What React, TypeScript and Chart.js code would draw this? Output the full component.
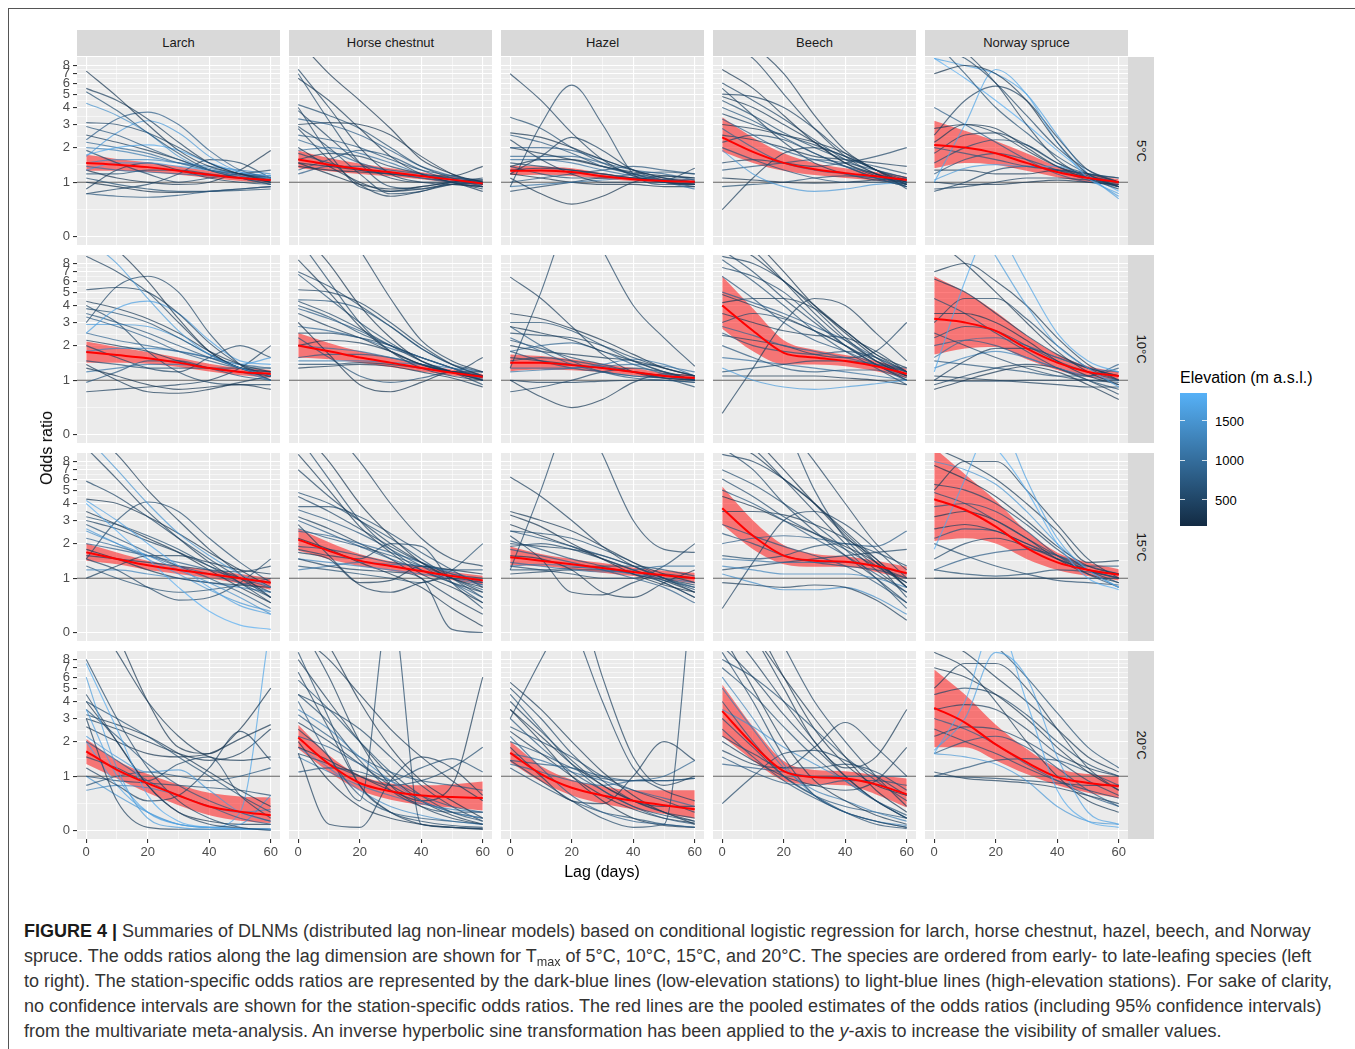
import React, { useEffect, useRef } from 'react';
import { Chart, registerables } from 'chart.js';

Chart.register(...registerables);

const FONT = "'Liberation Sans', Arial, Helvetica, sans-serif";

// ---------- axes / labels ----------
const LAGS = [0, 10, 20, 30, 40, 50, 60];
const X_TICKS = [0, 10, 20, 30, 40, 50, 60]; // labelled: multiples of 20
const X_MIN = -3;
const X_MAX = 63;
const Y_TICK_ODDS = [0, 1, 2, 3, 4, 5, 6, 7, 8];
const REF_ODDS = 1;
const SPECIES = ['Larch', 'Horse chestnut', 'Hazel', 'Beech', 'Norway spruce'];
const TEMPS = ['5°C', '10°C', '15°C', '20°C'];
const ELEV_LIMITS = [165, 1850];
const ELEV_BREAKS = [500, 1000, 1500];

// ---------- station curves: [elevation (m), OR at lag 0,10,20,30,40,50,60] ----------
const larch5 = [
  [300, 7.3, 4.8, 3.0, 1.9, 1.4, 1.2, 1.0],
  [400, 5.5, 4.5, 3.3, 2.2, 1.5, 1.2, 1.05],
  [600, 5.2, 3.8, 2.6, 1.8, 1.3, 1.1, 0.95],
  [1450, 4.3, 3.5, 2.6, 1.7, 1.3, 1.15, 1.1],
  [500, 3.1, 3.0, 2.6, 2.0, 1.5, 1.2, 1.1],
  [700, 2.9, 2.5, 2.0, 1.6, 1.3, 1.1, 0.95],
  [800, 2.3, 3.3, 3.7, 3.0, 1.9, 1.3, 1.1],
  [1550, 1.7, 2.6, 3.2, 2.6, 1.7, 1.25, 1.15],
  [1750, 1.75, 2.0, 2.1, 1.9, 1.5, 1.25, 1.15],
  [350, 2.5, 2.2, 1.9, 1.6, 1.3, 1.15, 1.0],
  [900, 2.2, 2.0, 1.8, 1.5, 1.3, 1.2, 1.1],
  [1200, 2.0, 1.9, 1.7, 1.5, 1.35, 1.2, 1.15],
  [500, 1.9, 1.5, 1.2, 1.0, 1.1, 1.2, 1.3],
  [1350, 1.5, 1.6, 1.6, 1.5, 1.4, 1.3, 1.2],
  [1000, 1.4, 1.3, 1.25, 1.2, 1.15, 1.1, 1.05],
  [1600, 1.3, 1.5, 1.5, 1.4, 1.3, 1.2, 1.1],
  [600, 1.2, 1.2, 1.3, 1.3, 1.2, 1.1, 1.0],
  [400, 0.85, 1.3, 1.5, 1.3, 1.1, 1.0, 0.95],
  [300, 1.3, 1.1, 1.0, 0.95, 1.0, 1.3, 1.9],
  [500, 0.75, 0.85, 0.95, 1.2, 1.6, 1.5, 1.1],
  [700, 0.75, 0.7, 0.68, 0.72, 0.8, 0.85, 0.9],
  [600, 1.1, 0.95, 0.85, 0.8, 0.8, 0.82, 0.85],
  [250, 1.0, 0.9, 0.8, 0.78, 0.8, 0.85, 0.9],
];
const horse5 = [
  [300, 12, 7.0, 4.5, 2.8, 1.6, 1.2, 1.0],
  [400, 7.5, 4.0, 2.0, 1.2, 1.0, 0.95, 0.9],
  [500, 7.0, 3.2, 1.5, 0.9, 0.85, 0.95, 1.0],
  [350, 6.5, 4.5, 2.8, 1.7, 1.2, 1.0, 0.85],
  [600, 4.2, 3.5, 2.8, 2.0, 1.4, 1.1, 0.9],
  [450, 3.8, 2.4, 1.5, 1.1, 1.0, 1.0, 1.0],
  [800, 3.3, 3.0, 2.5, 1.9, 1.4, 1.15, 1.0],
  [300, 3.0, 3.1, 3.0, 2.5, 1.7, 1.2, 0.95],
  [500, 2.9, 2.0, 1.2, 0.75, 0.8, 1.0, 1.05],
  [400, 2.8, 1.6, 0.95, 0.7, 0.8, 0.95, 1.0],
  [700, 2.5, 2.3, 2.0, 1.6, 1.3, 1.15, 1.0],
  [900, 2.3, 1.9, 1.5, 1.25, 1.1, 1.0, 0.95],
  [350, 2.0, 1.4, 1.0, 0.8, 0.85, 0.95, 0.9],
  [1000, 1.9, 2.0, 1.8, 1.5, 1.2, 1.05, 0.95],
  [600, 1.8, 1.5, 1.3, 1.2, 1.15, 1.1, 1.05],
  [500, 1.6, 1.8, 1.7, 1.4, 1.2, 1.0, 0.9],
  [400, 1.5, 1.4, 1.3, 1.2, 1.1, 1.0, 0.8],
  [300, 1.4, 1.3, 1.25, 1.2, 1.15, 1.15, 1.4],
  [700, 1.3, 1.6, 1.9, 1.7, 1.3, 1.05, 0.95],
  [800, 1.2, 1.4, 1.4, 1.3, 1.2, 1.1, 1.0],
  [250, 1.5, 1.2, 0.95, 0.85, 0.9, 1.0, 1.05],
  [450, 4.0, 1.8, 0.9, 0.8, 0.9, 1.0, 1.1],
];
const hazel5 = [
  [400, 7.0, 4.5, 2.6, 1.6, 1.15, 1.0, 0.95],
  [500, 0.9, 3.0, 5.8, 3.0, 1.2, 0.95, 0.95],
  [600, 3.4, 2.8, 2.0, 1.5, 1.2, 1.05, 1.0],
  [300, 2.6, 2.4, 2.0, 1.6, 1.3, 1.1, 1.0],
  [700, 2.5, 2.2, 1.8, 1.4, 1.2, 1.1, 1.05],
  [400, 2.3, 1.6, 1.2, 1.0, 1.0, 1.0, 0.95],
  [450, 1.2, 1.7, 2.4, 1.9, 1.3, 1.05, 1.0],
  [800, 2.0, 2.0, 1.9, 1.6, 1.3, 1.1, 1.0],
  [350, 2.0, 1.8, 1.6, 1.4, 1.25, 1.15, 1.1],
  [900, 1.7, 1.7, 1.7, 1.5, 1.3, 1.2, 1.05],
  [1000, 1.6, 1.6, 1.5, 1.3, 1.15, 1.05, 1.0],
  [500, 1.5, 1.4, 1.3, 1.2, 1.1, 1.0, 0.95],
  [600, 1.4, 1.2, 1.1, 1.1, 1.2, 1.25, 1.2],
  [400, 1.3, 1.35, 1.3, 1.2, 1.1, 1.05, 1.35],
  [300, 1.1, 0.75, 0.55, 0.7, 1.0, 1.15, 1.1],
  [700, 1.0, 1.1, 1.2, 1.3, 1.4, 1.3, 1.2],
  [1100, 0.9, 0.95, 1.0, 1.05, 1.1, 1.0, 0.85],
  [500, 0.8, 0.9, 1.0, 1.1, 1.1, 1.0, 0.9],
  [250, 1.2, 1.1, 1.0, 0.95, 0.95, 0.9, 0.9],
  [350, 1.4, 1.6, 1.6, 1.4, 1.2, 1.0, 0.95],
];
const beech5 = [
  [300, 7.5, 5.5, 3.5, 2.2, 1.5, 1.2, 1.0],
  [400, 12, 9, 5, 2.8, 1.7, 1.2, 0.95],
  [350, 14, 11, 7, 3.5, 1.9, 1.3, 1.0],
  [500, 6.0, 4.5, 3.3, 2.3, 1.6, 1.2, 0.9],
  [450, 5.0, 4.8, 4.0, 2.8, 1.8, 1.3, 1.05],
  [600, 4.5, 3.5, 2.6, 2.0, 1.6, 1.4, 1.2],
  [700, 4.0, 3.2, 2.4, 1.8, 1.4, 1.1, 0.9],
  [500, 3.6, 3.0, 2.5, 2.1, 1.7, 1.3, 0.85],
  [800, 3.3, 2.5, 1.9, 1.6, 1.4, 1.2, 1.0],
  [300, 3.0, 2.8, 2.5, 2.2, 1.8, 1.3, 0.95],
  [900, 2.8, 2.0, 1.5, 1.3, 1.2, 1.1, 1.0],
  [400, 2.5, 2.3, 2.0, 1.7, 1.6, 1.5, 1.4],
  [550, 2.2, 2.5, 2.3, 1.8, 1.4, 1.1, 0.9],
  [650, 2.0, 1.6, 1.3, 1.1, 1.0, 1.0, 1.05],
  [1550, 1.9, 1.2, 0.9, 0.8, 0.85, 0.95, 1.0],
  [500, 1.5, 1.6, 1.5, 1.4, 1.5, 1.7, 2.0],
  [700, 1.3, 1.4, 1.5, 1.6, 1.5, 1.3, 1.1],
  [400, 0.45, 1.1, 1.8, 2.0, 1.7, 1.3, 1.1],
  [300, 1.1, 1.05, 1.0, 0.98, 1.0, 1.05, 1.1],
  [600, 0.9, 0.95, 1.0, 1.1, 1.15, 1.1, 0.95],
  [350, 4.8, 4.0, 3.0, 2.2, 1.5, 1.15, 0.95],
  [450, 5.5, 3.5, 2.2, 1.5, 1.2, 1.05, 0.95],
];
const spruce5 = [
  [400, 14, 10, 6, 3, 1.6, 1.1, 0.85],
  [500, 11, 9, 6, 3.5, 2.0, 1.3, 1.0],
  [300, 7.0, 8.0, 7.0, 4.5, 2.2, 1.2, 0.9],
  [1700, 1.0, 3.0, 7.5, 5.0, 2.2, 1.1, 0.75],
  [450, 2.5, 4.5, 5.7, 4.5, 2.4, 1.3, 1.0],
  [600, 12, 7, 4, 2.6, 1.7, 1.2, 0.9],
  [350, 2.2, 3.0, 2.8, 2.0, 1.4, 1.1, 1.0],
  [500, 1.8, 2.5, 2.6, 2.1, 1.5, 1.2, 1.1],
  [700, 2.0, 1.8, 1.6, 1.4, 1.3, 1.2, 1.1],
  [1600, 1.05, 1.35, 1.45, 1.4, 1.4, 1.1, 0.7],
  [1650, 9, 8, 7, 5, 2.5, 1.2, 0.65],
  [400, 1.3, 1.3, 1.2, 1.2, 1.3, 1.2, 1.0],
  [300, 1.0, 0.95, 0.95, 1.0, 1.05, 1.0, 0.95],
  [500, 0.8, 1.0, 1.3, 1.4, 1.3, 1.1, 0.9],
  [700, 1.2, 1.6, 1.8, 1.6, 1.3, 1.05, 0.9],
  [600, 1.5, 2.0, 2.3, 2.1, 1.5, 1.1, 0.9],
  [450, 0.85, 0.9, 1.0, 1.1, 1.1, 1.05, 1.0],
  [800, 4.0, 3.0, 2.2, 1.6, 1.2, 1.0, 0.95],
  [1800, 9, 6.5, 4.5, 3.0, 1.9, 1.2, 0.8],
  [350, 2.8, 3.0, 2.6, 1.9, 1.4, 1.15, 1.0],
];

const larch10 = [
  [1600, 12, 8, 4.5, 2.6, 1.7, 1.3, 1.1],
  [300, 14, 10, 6, 3.2, 1.8, 1.3, 1.1],
  [400, 9, 7, 5, 3, 1.8, 1.3, 1.2],
  [450, 5.2, 5.4, 5.0, 3.5, 2.1, 1.4, 1.1],
  [500, 3.0, 5.5, 6.5, 5.0, 2.5, 1.4, 1.0],
  [1650, 2.5, 3.8, 4.3, 3.5, 2.2, 1.5, 1.4],
  [350, 4.3, 3.8, 3.2, 2.5, 1.8, 1.4, 1.2],
  [600, 3.8, 3.5, 3.0, 2.3, 1.7, 1.3, 1.1],
  [700, 3.5, 3.0, 2.5, 2.0, 1.6, 1.3, 1.1],
  [800, 3.3, 2.8, 2.3, 1.8, 1.5, 1.3, 1.2],
  [1600, 2.9, 2.9, 2.8, 2.3, 1.7, 1.4, 1.6],
  [900, 2.5, 2.2, 2.0, 1.8, 1.6, 1.4, 1.3],
  [400, 2.2, 2.0, 1.8, 1.5, 1.3, 1.2, 1.1],
  [500, 2.0, 1.6, 1.3, 1.2, 1.6, 2.0, 1.6],
  [1300, 1.8, 1.9, 1.9, 1.8, 1.6, 1.3, 1.0],
  [600, 1.5, 1.4, 1.3, 1.3, 1.3, 1.3, 1.3],
  [300, 1.3, 1.1, 0.9, 0.8, 0.85, 0.9, 0.8],
  [1100, 1.2, 1.3, 1.4, 1.4, 1.3, 1.2, 1.0],
  [700, 0.95, 1.2, 1.5, 1.5, 1.3, 1.1, 1.0],
  [400, 0.75, 0.8, 0.85, 0.9, 1.0, 1.3, 2.0],
  [350, 1.4, 1.0, 0.75, 0.72, 0.8, 0.95, 1.1],
  [500, 4.0, 3.0, 1.8, 1.2, 0.95, 0.9, 0.9],
];
const horse10 = [
  [400, 30, 20, 10, 4.5, 2.2, 1.5, 1.2],
  [300, 14, 8, 4, 2.3, 1.5, 1.2, 1.0],
  [500, 12, 6, 3, 1.8, 1.3, 1.1, 1.0],
  [350, 8.5, 5, 2.8, 1.8, 1.4, 1.2, 1.1],
  [600, 6.7, 4.5, 3.0, 2.1, 1.5, 1.2, 1.0],
  [450, 5.2, 5.0, 4.2, 3.0, 2.0, 1.4, 1.1],
  [700, 4.4, 4.3, 3.8, 2.8, 1.9, 1.4, 1.2],
  [500, 4.3, 3.5, 2.7, 2.0, 1.5, 1.2, 0.9],
  [800, 3.8, 3.2, 2.6, 2.0, 1.6, 1.3, 1.1],
  [400, 3.5, 2.8, 2.3, 1.8, 1.4, 1.2, 1.1],
  [300, 3.0, 1.7, 0.9, 0.75, 0.95, 1.2, 1.2],
  [900, 2.8, 2.6, 2.3, 1.9, 1.6, 1.3, 1.0],
  [550, 2.5, 2.5, 2.3, 2.0, 1.6, 1.3, 1.05],
  [650, 2.3, 1.6, 1.1, 0.95, 1.05, 1.2, 1.1],
  [1000, 2.0, 1.9, 1.8, 1.6, 1.4, 1.2, 1.05],
  [750, 1.6, 1.7, 1.7, 1.6, 1.4, 1.2, 1.0],
  [1200, 1.5, 1.5, 1.5, 1.45, 1.4, 1.3, 1.2],
  [500, 1.4, 1.4, 1.45, 1.4, 1.3, 1.2, 1.1],
  [350, 1.3, 1.35, 1.4, 1.35, 1.2, 1.05, 0.85],
  [600, 4.0, 3.3, 2.5, 2.0, 1.6, 1.3, 1.0],
  [400, 2.0, 2.2, 2.1, 1.8, 1.4, 1.2, 1.6],
  [500, 7, 5.5, 4, 2.8, 1.9, 1.4, 1.1],
];
const hazel10 = [
  [400, 6.4, 4.5, 2.8, 1.7, 1.2, 1.05, 1.0],
  [500, 1.3, 5, 20, 40, 60, 80, 100],
  [450, 50, 40, 25, 10, 4, 2.3, 1.35],
  [300, 3.5, 3.2, 2.7, 2.2, 1.7, 1.3, 1.1],
  [600, 3.0, 3.0, 2.6, 2.0, 1.5, 1.2, 1.0],
  [350, 2.8, 2.5, 2.2, 1.8, 1.5, 1.2, 1.0],
  [700, 2.8, 2.0, 1.5, 1.2, 1.05, 1.0, 0.95],
  [500, 2.5, 2.4, 2.3, 2.0, 1.6, 1.3, 1.1],
  [800, 2.3, 1.8, 1.4, 1.2, 1.1, 1.05, 1.0],
  [400, 2.0, 1.8, 1.7, 1.6, 1.5, 1.3, 1.1],
  [900, 1.8, 2.0, 2.1, 1.8, 1.4, 1.15, 1.0],
  [450, 1.6, 1.5, 1.4, 1.3, 1.2, 1.1, 1.0],
  [350, 1.0, 0.65, 0.45, 0.6, 0.95, 1.15, 1.1],
  [1000, 1.3, 1.3, 1.3, 1.35, 1.4, 1.35, 1.2],
  [1100, 1.2, 1.25, 1.3, 1.4, 1.55, 1.4, 1.1],
  [500, 0.75, 0.85, 1.0, 1.2, 1.3, 1.2, 1.0],
  [400, 1.0, 0.95, 0.95, 0.98, 1.0, 1.0, 0.95],
  [600, 1.5, 1.6, 1.5, 1.35, 1.2, 1.1, 1.05],
  [550, 2.2, 1.9, 1.6, 1.4, 1.2, 1.05, 0.85],
  [650, 1.8, 1.5, 1.3, 1.2, 1.1, 1.05, 1.0],
];
const beech10 = [
  [300, 20, 12, 7, 4, 2.5, 1.6, 1.1],
  [400, 15, 10, 6, 3.5, 2.2, 1.5, 1.1],
  [350, 12, 9, 6, 4, 2.6, 1.7, 1.2],
  [500, 10, 7, 4.5, 3, 2, 1.4, 1.0],
  [450, 9, 8, 6, 3.8, 2.3, 1.5, 1.1],
  [600, 8.5, 6, 4, 2.6, 1.8, 1.3, 0.9],
  [550, 7.5, 6.5, 5, 3.2, 2.0, 1.4, 1.05],
  [700, 6.5, 4.5, 3.0, 2.2, 1.8, 1.4, 1.1],
  [800, 5, 4.2, 3.5, 2.8, 2.2, 1.6, 1.2],
  [350, 4.2, 4.5, 4.5, 3.8, 2.6, 1.7, 1.3],
  [400, 3.5, 3.0, 2.6, 2.4, 2.3, 1.8, 1.2],
  [900, 2.8, 2.4, 2.0, 1.8, 1.6, 1.4, 1.3],
  [650, 2.5, 2.0, 1.8, 1.7, 1.8, 1.6, 1.2],
  [500, 2.4, 2.2, 2.0, 1.7, 1.6, 1.8, 3.0],
  [1600, 1.3, 1.0, 0.85, 0.8, 0.85, 0.92, 1.0],
  [600, 1.2, 1.3, 1.4, 1.5, 1.5, 1.4, 1.2],
  [400, 0.35, 1.3, 3, 4.5, 4.0, 2.5, 1.5],
  [300, 1.1, 1.1, 1.1, 1.1, 1.05, 1.0, 0.9],
  [700, 2.0, 1.6, 1.3, 1.2, 1.25, 1.25, 1.0],
  [1000, 1.6, 1.5, 1.4, 1.3, 1.2, 1.1, 1.0],
  [450, 4.8, 4.0, 3.3, 2.6, 2.0, 1.5, 1.2],
  [550, 3.0, 3.5, 3.2, 2.6, 2.0, 1.4, 1.0],
];
const spruce10 = [
  [1750, 1.2, 6, 20, 40, 40, 30, 20],
  [1600, 30, 20, 9, 4, 2, 1.3, 0.85],
  [1700, 40, 30, 15, 6, 2.5, 1.5, 1.2],
  [400, 6.2, 5.0, 3.5, 2.4, 1.7, 1.3, 1.1],
  [300, 12, 8, 5, 3, 1.8, 1.2, 0.9],
  [500, 3.0, 4.5, 4.5, 3.2, 2.0, 1.3, 1.0],
  [350, 3.5, 3.5, 3.0, 2.2, 1.5, 1.1, 0.9],
  [600, 2.3, 2.8, 2.6, 2.0, 1.5, 1.2, 1.0],
  [1000, 1.6, 2.2, 2.3, 2.0, 1.6, 1.3, 1.2],
  [450, 1.0, 1.5, 1.9, 1.9, 1.6, 1.3, 1.1],
  [300, 0.8, 1.0, 1.2, 1.35, 1.2, 0.9, 0.6],
  [500, 1.0, 0.98, 0.98, 1.0, 1.0, 1.0, 1.0],
  [400, 1.1, 1.05, 1.0, 0.95, 0.9, 0.85, 0.85],
  [700, 1.5, 1.4, 1.3, 1.2, 1.1, 1.1, 1.3],
  [550, 2.5, 2.0, 1.6, 1.3, 1.1, 1.0, 0.95],
  [600, 4.5, 3.5, 2.5, 1.8, 1.3, 1.0, 0.8],
  [350, 7, 8, 6, 4, 2.3, 1.4, 1.0],
  [1300, 1.3, 1.6, 1.8, 1.6, 1.3, 1.1, 1.0],
  [450, 0.9, 1.1, 1.3, 1.4, 1.3, 1.0, 0.7],
  [800, 2.0, 2.2, 2.0, 1.6, 1.3, 1.1, 1.4],
];

const larch15 = [
  [1500, 12, 7, 4, 2.4, 1.6, 1.1, 0.8],
  [350, 14, 9, 5, 3, 1.8, 1.1, 0.6],
  [400, 10, 6, 3.5, 2.2, 1.4, 0.9, 0.5],
  [500, 5.8, 4.5, 3.2, 2.2, 1.5, 1.0, 0.6],
  [300, 4.3, 4.0, 3.2, 2.4, 1.7, 1.2, 0.8],
  [1650, 4.2, 3.0, 2.0, 1.3, 0.8, 0.45, 0.3],
  [1800, 4.0, 2.5, 1.5, 0.8, 0.35, 0.12, 0.05],
  [600, 3.2, 2.8, 2.3, 1.8, 1.3, 0.9, 0.6],
  [450, 3.0, 2.6, 2.1, 1.7, 1.3, 1.0, 0.7],
  [700, 2.8, 2.2, 1.7, 1.3, 1.0, 0.7, 0.4],
  [1400, 2.5, 2.0, 1.6, 1.2, 0.9, 0.6, 0.3],
  [800, 2.0, 1.8, 1.6, 1.4, 1.2, 1.0, 0.8],
  [550, 1.5, 3.0, 4.1, 3.5, 2.2, 1.4, 0.9],
  [350, 1.8, 1.5, 1.2, 1.0, 0.9, 0.85, 0.8],
  [500, 1.5, 1.2, 0.8, 0.55, 0.6, 0.9, 1.5],
  [1300, 1.2, 1.2, 1.1, 1.0, 0.9, 0.8, 0.7],
  [400, 1.0, 1.3, 1.6, 1.6, 1.4, 1.2, 1.1],
  [600, 1.3, 1.0, 0.8, 0.7, 0.75, 0.85, 1.0],
  [300, 3.5, 2.8, 2.2, 1.7, 1.2, 0.8, 0.5],
  [900, 2.2, 1.9, 1.6, 1.3, 1.1, 0.9, 0.7],
  [450, 1.6, 1.5, 1.4, 1.3, 1.2, 1.15, 1.3],
  [1550, 2.6, 2.0, 1.5, 1.1, 0.75, 0.5, 0.35],
];
const horse15 = [
  [400, 20, 14, 8, 4, 2.2, 1.5, 1.3],
  [300, 14, 8, 4, 2.3, 1.4, 1.0, 0.8],
  [500, 12, 6, 3, 1.8, 1.2, 0.9, 0.7],
  [350, 9, 5, 2.7, 1.7, 1.1, 0.8, 0.5],
  [450, 7, 4.5, 3, 2, 1.4, 1.0, 0.7],
  [600, 4.8, 4, 3, 2.2, 1.5, 1.0, 0.6],
  [550, 3.8, 3.8, 3.2, 2.4, 1.7, 1.2, 0.8],
  [700, 3.6, 3.0, 2.4, 1.8, 1.3, 0.9, 0.5],
  [800, 3.0, 2.4, 1.9, 1.5, 1.2, 0.9, 0.6],
  [400, 2.8, 1.6, 0.85, 0.7, 0.9, 1.0, 0.9],
  [900, 2.5, 2.3, 2.0, 1.7, 1.4, 1.1, 0.85],
  [500, 1.8, 1.6, 1.5, 2.0, 1.9, 0.9, 0.4],
  [350, 1.7, 1.5, 0.9, 0.95, 1.3, 1.2, 1.1],
  [450, 1.5, 1.3, 1.2, 1.15, 1.0, 0.05, 0.0],
  [1100, 1.2, 1.3, 1.4, 1.35, 1.3, 1.15, 0.9],
  [1300, 1.5, 1.4, 1.3, 1.2, 1.1, 1.0, 0.85],
  [600, 1.3, 1.2, 1.1, 1.0, 0.9, 1.2, 2.0],
  [300, 2.2, 1.8, 1.4, 1.1, 0.8, 0.4, 0.1],
  [400, 3.2, 2.6, 2.0, 1.5, 1.0, 0.6, 0.3],
  [650, 1.9, 1.8, 1.6, 1.4, 1.3, 1.2, 1.2],
  [500, 4.5, 3.5, 2.6, 1.9, 1.4, 1.1, 1.0],
  [700, 2.6, 2.2, 1.9, 1.6, 1.3, 1.0, 0.75],
];
const hazel15 = [
  [400, 6.2, 4.5, 3.0, 1.9, 1.3, 1.0, 0.85],
  [500, 1.2, 5, 20, 40, 60, 80, 100],
  [450, 50, 40, 25, 9, 3, 1.8, 1.7],
  [350, 3.5, 3.0, 2.5, 1.9, 1.4, 1.1, 0.9],
  [300, 3.3, 2.7, 2.0, 1.5, 1.1, 0.85, 0.7],
  [600, 2.5, 2.4, 2.2, 1.8, 1.4, 1.0, 0.75],
  [700, 2.5, 2.2, 1.9, 1.6, 1.3, 1.0, 0.8],
  [400, 2.3, 1.5, 0.7, 0.65, 0.9, 1.1, 1.0],
  [500, 2.0, 1.9, 1.8, 1.6, 1.3, 1.0, 0.7],
  [800, 1.8, 1.6, 1.4, 1.2, 1.0, 0.8, 0.5],
  [350, 1.6, 1.5, 1.2, 0.7, 0.6, 0.9, 1.2],
  [1000, 1.4, 1.3, 1.2, 1.15, 1.2, 1.3, 1.3],
  [1200, 1.3, 1.35, 1.3, 1.2, 1.1, 1.0, 0.9],
  [600, 1.2, 1.2, 1.25, 1.3, 1.3, 1.2, 1.05],
  [450, 1.1, 1.15, 1.2, 1.2, 1.1, 0.9, 0.6],
  [500, 1.3, 1.2, 1.1, 1.0, 1.0, 1.3, 2.0],
  [650, 2.1, 1.8, 1.5, 1.3, 1.1, 0.95, 0.8],
  [550, 1.9, 2.0, 1.8, 1.5, 1.2, 0.9, 0.6],
  [300, 2.8, 2.3, 1.9, 1.5, 1.2, 0.95, 0.7],
];
const beech15 = [
  [300, 20, 12, 7, 4, 2.3, 1.4, 0.9],
  [400, 15, 10, 6, 3.5, 2.0, 1.2, 0.7],
  [350, 12, 9, 6, 4, 2.5, 1.5, 0.8],
  [500, 10, 7, 4, 2.5, 1.6, 1.0, 0.5],
  [450, 9, 8, 6, 4, 2.4, 1.4, 0.6],
  [600, 7, 5.5, 4, 2.8, 1.8, 1.0, 0.4],
  [550, 6, 4.5, 3.2, 2.4, 1.8, 1.3, 1.0],
  [700, 5, 4, 3, 2.2, 1.6, 1.1, 0.7],
  [350, 3.5, 3.5, 3.3, 2.8, 2.2, 1.5, 0.8],
  [500, 40, 30, 15, 5, 2.2, 1.3, 0.9],
  [400, 30, 25, 15, 8, 4, 2, 1.2],
  [800, 2.0, 2.2, 2.3, 2.2, 2.0, 1.9, 2.5],
  [600, 1.6, 1.5, 1.6, 1.9, 2.0, 1.7, 1.3],
  [1000, 1.5, 1.45, 1.4, 1.4, 1.4, 1.3, 1.1],
  [1300, 1.3, 1.2, 1.1, 1.1, 1.1, 1.0, 0.8],
  [400, 0.9, 0.85, 0.8, 0.85, 0.8, 0.55, 0.2],
  [450, 0.4, 1.4, 3, 3.5, 2.8, 1.8, 1.0],
  [1400, 1.1, 0.9, 0.75, 0.75, 0.8, 0.6, 0.3],
  [650, 2.4, 2.0, 1.6, 1.4, 1.3, 1.2, 1.0],
  [500, 1.2, 1.3, 1.4, 1.5, 1.6, 1.7, 1.8],
  [300, 4.5, 3.8, 3.0, 2.4, 1.9, 1.4, 0.8],
  [700, 2.8, 2.3, 1.9, 1.6, 1.3, 0.9, 0.5],
];
const spruce15 = [
  [1750, 1.8, 6, 20, 40, 60, 60, 60],
  [1650, 50, 40, 20, 6, 2.2, 1.2, 0.8],
  [1800, 12, 15, 10, 5, 2, 1.0, 0.75],
  [400, 5, 8, 8, 5, 2.8, 1.5, 1.0],
  [300, 7.5, 6, 4.5, 3, 1.9, 1.3, 1.1],
  [500, 5.5, 5, 4, 2.8, 1.8, 1.2, 0.9],
  [600, 4.8, 4.0, 3.0, 2.2, 1.6, 1.2, 1.0],
  [350, 3.2, 3.5, 3.0, 2.2, 1.5, 1.1, 0.9],
  [450, 2.6, 2.8, 2.5, 2.0, 1.5, 1.2, 1.1],
  [700, 2.2, 2.6, 2.5, 2.0, 1.6, 1.3, 1.3],
  [500, 1.5, 2.0, 2.2, 1.9, 1.5, 1.2, 1.0],
  [800, 1.2, 1.5, 1.7, 1.8, 1.6, 1.3, 1.1],
  [400, 1.0, 1.0, 1.0, 1.0, 1.0, 1.0, 1.0],
  [600, 1.2, 1.1, 1.05, 1.1, 1.2, 1.15, 1.0],
  [350, 10, 8, 6, 4, 2.5, 1.4, 1.45],
  [1500, 8, 7, 5.5, 3.5, 2, 1.2, 0.8],
  [550, 2.0, 1.6, 1.3, 1.1, 0.95, 0.9, 0.85],
  [650, 3.8, 4, 3.5, 2.5, 1.6, 1.1, 0.8],
];

const larch20 = [
  [350, 20, 9, 4, 2.2, 1.5, 1.4, 1.5],
  [300, 30, 12, 4, 1.8, 1.6, 2.5, 5.0],
  [500, 8, 3, 1.2, 0.5, 0.2, 0.05, 0.0],
  [1600, 6, 1.2, 0.2, 0.05, 0.02, 0.02, 0.02],
  [1750, 7.5, 2.5, 0.6, 0.15, 0.05, 0.03, 0.02],
  [450, 4.5, 2.0, 0.8, 0.3, 0.1, 0.04, 0.02],
  [600, 4.0, 3.0, 2.2, 1.5, 1.0, 0.6, 0.3],
  [1650, 3.5, 1.0, 0.3, 0.1, 0.05, 0.03, 0.02],
  [700, 3.5, 2.2, 1.3, 0.8, 0.5, 0.3, 0.15],
  [350, 3.2, 2.7, 2.2, 1.6, 1.1, 0.7, 0.4],
  [400, 3.0, 0.5, 0.05, 0.02, 0.02, 0.02, 0.02],
  [300, 2.6, 2.0, 1.6, 1.5, 1.6, 2.1, 2.7],
  [1550, 2.2, 1.5, 1.1, 1.15, 0.7, 0.3, 0.15],
  [800, 2.0, 1.4, 0.9, 0.6, 0.4, 0.2, 0.1],
  [500, 1.5, 1.2, 0.9, 1.3, 1.5, 0.6, 0.2],
  [450, 1.2, 0.8, 0.5, 0.6, 1.2, 2.4, 1.4],
  [550, 1.0, 0.9, 0.85, 0.8, 0.75, 0.7, 0.6],
  [650, 0.8, 1.0, 1.1, 1.0, 0.9, 1.0, 1.2],
  [1300, 0.7, 0.8, 0.75, 0.6, 0.4, 0.3, 0.35],
  [1500, 1.0, 0.6, 0.3, 0.1, 0.05, 0.1, 0.6],
  [1700, 2.0, 0.8, 0.3, 0.1, 0.05, 0.3, 15],
  [350, 3.0, 2.5, 2.0, 1.6, 1.4, 1.6, 2.5],
  [300, 4, 2, 0.8, 0.3, 0.15, 0.1, 0.1],
];
const horse20 = [
  [300, 20, 10, 4, 1.8, 0.9, 0.5, 0.2],
  [400, 15, 6, 2, 0.8, 0.4, 0.2, 0.1],
  [350, 12, 8, 4.5, 2.5, 1.5, 0.9, 0.5],
  [500, 9, 3, 0.8, 0.3, 0.15, 0.08, 0.05],
  [450, 6.5, 2.5, 0.8, 0.3, 0.1, 0.05, 0.02],
  [600, 5.7, 3.5, 2.0, 1.1, 0.6, 0.3, 0.15],
  [550, 4.5, 2.8, 1.4, 0.7, 0.4, 0.3, 0.3],
  [700, 4.0, 1.5, 0.6, 0.3, 0.2, 0.15, 0.1],
  [1300, 3.5, 2.5, 1.5, 0.9, 0.5, 0.3, 0.2],
  [400, 1.6, 0.1, 0.05, 0.9, 1.5, 1.2, 0.6],
  [500, 2.5, 1.5, 0.5, 20, 0.1, 0.05, 0.03],
  [800, 2.2, 1.8, 1.3, 0.9, 0.6, 0.4, 0.3],
  [350, 1.8, 1.4, 1.0, 0.7, 0.5, 0.8, 6.0],
  [600, 1.6, 1.3, 1.0, 0.8, 0.9, 1.2, 1.8],
  [650, 1.1, 1.2, 1.1, 0.9, 1.2, 1.45, 1.1],
  [1400, 1.8, 1.2, 0.7, 0.4, 0.25, 0.15, 0.1],
  [450, 2.8, 2.0, 1.3, 0.8, 0.5, 0.3, 0.2],
  [750, 3.2, 2.2, 1.5, 1.1, 0.9, 0.8, 0.7],
  [300, 2.0, 0.9, 0.4, 0.2, 0.1, 0.05, 0.02],
  [500, 4.5, 3.5, 2.5, 1.5, 0.8, 0.4, 0.15],
  [350, 8, 4, 2, 1, 0.5, 0.25, 0.1],
  [1200, 1.5, 1.1, 0.8, 0.6, 0.45, 0.35, 0.3],
];
const hazel20 = [
  [450, 3.0, 8, 20, 40, 40, 40, 40],
  [450, 60, 40, 15, 4, 1.2, 0.7, 0.5],
  [400, 80, 60, 30, 6, 1.5, 0.8, 1.0],
  [350, 5.5, 3.5, 2.0, 1.1, 0.6, 0.3, 0.15],
  [500, 5.0, 3.0, 1.6, 0.9, 0.5, 0.3, 0.2],
  [600, 4.5, 2.5, 1.3, 0.7, 0.4, 0.25, 0.15],
  [300, 3.5, 2.2, 1.3, 0.8, 0.5, 0.3, 0.1],
  [700, 3.0, 1.8, 1.1, 0.7, 0.4, 0.2, 0.1],
  [550, 2.6, 2.0, 1.5, 1.0, 0.7, 0.5, 0.3],
  [800, 2.2, 1.2, 0.6, 0.3, 0.15, 0.1, 0.05],
  [650, 2.0, 1.6, 1.2, 0.95, 0.9, 0.9, 0.95],
  [400, 1.8, 1.0, 0.5, 0.45, 1.0, 2.0, 1.4],
  [500, 1.4, 0.9, 0.5, 0.2, 0.05, 0.1, 40],
  [900, 1.3, 1.1, 0.9, 0.8, 0.9, 1.0, 1.4],
  [1000, 1.6, 1.4, 1.1, 0.9, 0.7, 0.55, 0.4],
  [450, 4.0, 2.4, 1.4, 0.8, 0.5, 0.4, 0.4],
  [350, 2.4, 1.6, 1.0, 0.6, 0.35, 0.2, 0.12],
  [600, 1.2, 0.8, 0.5, 0.3, 0.2, 0.1, 0.05],
  [750, 1.4, 1.3, 1.2, 1.0, 0.9, 0.9, 0.95],
  [300, 3.5, 2.0, 1.0, 0.5, 0.2, 0.08, 0.05],
];
const beech20 = [
  [300, 20, 12, 6, 3, 1.5, 0.7, 0.3],
  [400, 15, 8, 4, 2, 1.0, 0.5, 0.2],
  [350, 12, 5, 2, 0.9, 0.5, 0.25, 0.1],
  [450, 10, 6, 3.2, 1.8, 1.0, 0.5, 0.2],
  [500, 9, 4, 1.5, 0.6, 0.3, 0.15, 0.05],
  [600, 8, 6, 4, 2.5, 1.5, 0.9, 0.5],
  [1300, 6, 3, 1.3, 0.6, 0.3, 0.15, 0.08],
  [1200, 5, 2.5, 1.2, 0.7, 0.5, 0.3, 0.15],
  [700, 4, 2, 1.0, 0.6, 0.4, 0.3, 0.2],
  [550, 3, 1.8, 1.0, 0.6, 0.3, 0.1, 0.03],
  [650, 2.5, 1.5, 0.9, 0.55, 0.3, 0.15, 0.05],
  [400, 2.0, 1.4, 1.0, 0.8, 0.7, 0.9, 1.8],
  [450, 1.7, 1.3, 1.2, 1.8, 2.8, 1.8, 1.0],
  [800, 1.3, 1.2, 1.1, 1.0, 1.0, 1.0, 1.0],
  [500, 0.45, 1.0, 1.6, 1.7, 1.4, 1.0, 0.6],
  [350, 25, 12, 5, 2.0, 1.2, 1.5, 3.5],
  [300, 30, 15, 6, 2.5, 1.3, 0.8, 0.6],
  [1450, 3.5, 2.6, 1.8, 1.3, 0.9, 0.5, 0.2],
  [600, 7, 4.5, 2.6, 1.5, 0.9, 0.5, 0.25],
  [700, 1.5, 1.1, 0.85, 0.8, 0.9, 0.9, 0.8],
  [550, 2.2, 1.6, 1.2, 1.2, 1.3, 1.1, 0.7],
  [450, 40, 25, 10, 4, 2, 1.0, 0.4],
];
const spruce20 = [
  [1750, 1.6, 4, 15, 4, 0.7, 0.15, 0.05],
  [1650, 1.7, 3, 9, 6, 1.5, 0.3, 0.1],
  [1550, 1.6, 1.5, 1.3, 0.9, 0.4, 0.15, 0.1],
  [400, 5, 7.5, 7.5, 5, 2.5, 1.2, 0.7],
  [300, 7, 6, 4.5, 3, 1.8, 1.1, 0.7],
  [500, 4.5, 5, 4.5, 3.2, 2.0, 1.3, 1.0],
  [450, 3.5, 3.8, 3.5, 2.5, 1.6, 1.2, 1.0],
  [350, 12, 9, 6, 4, 2.5, 1.5, 1.1],
  [600, 20, 15, 10, 6, 3.3, 1.8, 1.2],
  [550, 2.2, 2.6, 2.5, 2.0, 1.4, 0.9, 0.6],
  [700, 1.6, 2.0, 2.2, 1.8, 1.2, 0.7, 0.4],
  [650, 1.0, 1.2, 1.4, 1.45, 1.4, 1.1, 0.8],
  [400, 1.1, 0.95, 0.9, 0.85, 0.75, 0.6, 0.45],
  [500, 1.0, 0.98, 0.95, 0.9, 0.85, 0.8, 0.8],
  [800, 3.0, 2.5, 1.9, 1.3, 0.9, 0.6, 0.4],
  [350, 9, 7, 4, 2, 1.0, 0.5, 0.3],
  [600, 2.5, 2.0, 1.6, 1.2, 0.9, 0.7, 0.55],
];

// ---------- pooled estimates (red line + 95% CI ribbon), OR at lags 0..60 ----------
const larch5Pooled = { est: [1.5, 1.45, 1.38, 1.28, 1.18, 1.1, 1.05], lo: [1.28, 1.28, 1.25, 1.18, 1.1, 1.03, 0.98], hi: [1.75, 1.62, 1.52, 1.4, 1.28, 1.18, 1.12] };
const horse5Pooled = { est: [1.6, 1.45, 1.33, 1.24, 1.15, 1.06, 0.97], lo: [1.35, 1.27, 1.2, 1.14, 1.07, 0.99, 0.92], hi: [1.9, 1.65, 1.48, 1.35, 1.24, 1.13, 1.03] };
const hazel5Pooled = { est: [1.28, 1.29, 1.25, 1.14, 1.07, 1.03, 1.01], lo: [1.17, 1.18, 1.15, 1.08, 1.02, 0.99, 0.96], hi: [1.42, 1.4, 1.35, 1.22, 1.12, 1.08, 1.06] };
const beech5Pooled = { est: [2.4, 1.85, 1.5, 1.32, 1.22, 1.14, 1.05], lo: [1.85, 1.5, 1.28, 1.17, 1.1, 1.04, 0.97], hi: [3.4, 2.4, 1.8, 1.5, 1.35, 1.25, 1.13] };
const spruce5Pooled = { est: [2.1, 2.0, 1.8, 1.5, 1.25, 1.1, 1.0], lo: [1.35, 1.5, 1.45, 1.28, 1.12, 1.0, 0.93], hi: [3.2, 2.7, 2.25, 1.8, 1.4, 1.2, 1.07] };

const larch10Pooled = { est: [1.78, 1.68, 1.58, 1.45, 1.3, 1.2, 1.15], lo: [1.45, 1.45, 1.42, 1.33, 1.21, 1.12, 1.06], hi: [2.15, 1.95, 1.78, 1.6, 1.42, 1.3, 1.25] };
const horse10Pooled = { est: [2.0, 1.8, 1.6, 1.45, 1.3, 1.18, 1.08], lo: [1.6, 1.55, 1.45, 1.33, 1.21, 1.11, 1.02], hi: [2.5, 2.1, 1.8, 1.6, 1.4, 1.26, 1.15] };
const hazel10Pooled = { est: [1.45, 1.45, 1.38, 1.3, 1.2, 1.1, 1.05], lo: [1.22, 1.26, 1.24, 1.2, 1.12, 1.04, 0.99], hi: [1.7, 1.65, 1.55, 1.42, 1.3, 1.18, 1.12] };
const beech10Pooled = { est: [4.0, 2.6, 1.75, 1.6, 1.5, 1.35, 1.15], lo: [2.7, 1.8, 1.4, 1.4, 1.35, 1.22, 1.05], hi: [6.5, 3.8, 2.2, 1.85, 1.68, 1.5, 1.28] };
const spruce10Pooled = { est: [3.2, 3.0, 2.6, 1.9, 1.45, 1.2, 1.1], lo: [1.7, 1.9, 1.95, 1.55, 1.25, 1.07, 1.0], hi: [6.5, 5, 3.6, 2.4, 1.7, 1.35, 1.2] };

const larch15Pooled = { est: [1.7, 1.5, 1.32, 1.2, 1.1, 1.0, 0.9], lo: [1.45, 1.35, 1.2, 1.1, 1.0, 0.88, 0.75], hi: [2.0, 1.7, 1.45, 1.3, 1.2, 1.1, 1.0] };
const horse15Pooled = { est: [2.15, 1.75, 1.45, 1.3, 1.17, 1.05, 0.95], lo: [1.75, 1.5, 1.3, 1.18, 1.07, 0.96, 0.85], hi: [2.6, 2.05, 1.65, 1.43, 1.28, 1.15, 1.06] };
const hazel15Pooled = { est: [1.55, 1.45, 1.35, 1.25, 1.15, 1.07, 1.0], lo: [1.32, 1.3, 1.22, 1.13, 1.05, 0.97, 0.88], hi: [1.9, 1.65, 1.5, 1.38, 1.26, 1.18, 1.13] };
const beech15Pooled = { est: [3.7, 2.3, 1.6, 1.45, 1.42, 1.3, 1.12], lo: [2.8, 1.8, 1.35, 1.28, 1.28, 1.15, 0.98], hi: [5.3, 3.0, 1.95, 1.65, 1.58, 1.45, 1.28] };
const spruce15Pooled = { est: [4.3, 3.6, 2.7, 1.85, 1.4, 1.2, 1.08], lo: [2.1, 2.2, 2.0, 1.5, 1.2, 1.05, 0.95], hi: [10, 6.5, 4.2, 2.5, 1.7, 1.4, 1.22] };

const larch20Pooled = { est: [1.67, 1.15, 0.84, 0.6, 0.4, 0.31, 0.25], lo: [1.3, 0.95, 0.65, 0.42, 0.25, 0.16, 0.12], hi: [2.1, 1.4, 1.05, 0.82, 0.65, 0.58, 0.56] };
const horse20Pooled = { est: [2.15, 1.3, 0.85, 0.68, 0.6, 0.57, 0.55], lo: [1.75, 1.1, 0.7, 0.52, 0.43, 0.38, 0.33], hi: [2.7, 1.55, 1.02, 0.84, 0.8, 0.82, 0.88] };
const hazel20Pooled = { est: [1.62, 1.05, 0.75, 0.6, 0.5, 0.42, 0.35], lo: [1.35, 0.88, 0.6, 0.45, 0.35, 0.27, 0.2], hi: [2.0, 1.25, 0.92, 0.78, 0.7, 0.7, 0.7] };
const beech20Pooled = { est: [3.4, 1.9, 1.12, 0.98, 0.95, 0.82, 0.62], lo: [2.2, 1.4, 0.9, 0.82, 0.8, 0.62, 0.38], hi: [5.3, 2.6, 1.38, 1.15, 1.12, 1.02, 0.95] };
const spruce20Pooled = { est: [3.6, 2.8, 1.9, 1.35, 0.98, 0.85, 0.78], lo: [1.8, 1.8, 1.4, 1.05, 0.8, 0.65, 0.55], hi: [6.8, 4.5, 2.7, 1.75, 1.2, 1.05, 1.0] };

const STATION_GRID = [
  [larch5, horse5, hazel5, beech5, spruce5],
  [larch10, horse10, hazel10, beech10, spruce10],
  [larch15, horse15, hazel15, beech15, spruce15],
  [larch20, horse20, hazel20, beech20, spruce20],
];
const POOLED_GRID = [
  [larch5Pooled, horse5Pooled, hazel5Pooled, beech5Pooled, spruce5Pooled],
  [larch10Pooled, horse10Pooled, hazel10Pooled, beech10Pooled, spruce10Pooled],
  [larch15Pooled, horse15Pooled, hazel15Pooled, beech15Pooled, spruce15Pooled],
  [larch20Pooled, horse20Pooled, hazel20Pooled, beech20Pooled, spruce20Pooled],
];

// ---------- layout ----------
const PANEL_LEFT = 77;
const PANEL_TOP = 57;
const PANEL_W = 203;
const PANEL_H = 188;
const COL_STEP = 212;
const ROW_STEP = 198;
const Y_AXIS_W = 30;
const X_AXIS_H = 22;
const PAD = 6;

const LOW = [19, 43, 67];
const HIGH = [86, 177, 247];
function elevColor(e: number, alpha: number) {
  const t = Math.max(0, Math.min(1, (e - ELEV_LIMITS[0]) / (ELEV_LIMITS[1] - ELEV_LIMITS[0])));
  const c = LOW.map((l, i) => Math.round(l + (HIGH[i] - l) * t));
  return `rgba(${c[0]},${c[1]},${c[2]},${alpha})`;
}

const panelBg = {
  id: 'panelBg',
  beforeDraw(chart: any) {
    const { ctx, chartArea: a } = chart;
    ctx.save();
    ctx.fillStyle = '#EBEBEB';
    ctx.fillRect(a.left, a.top, a.right - a.left, a.bottom - a.top);
    ctx.restore();
  },
};

const Y_MAJOR = Y_TICK_ODDS.map((v) => Math.asinh(v));
const Y_SPAN = Y_MAJOR[Y_MAJOR.length - 1] - Y_MAJOR[0];
const Y_MIN = Y_MAJOR[0] - 0.05 * Y_SPAN;
const Y_MAX = Y_MAJOR[Y_MAJOR.length - 1] + 0.05 * Y_SPAN;

function Panel({ row, col }: { row: number; col: number }) {
  const ref = useRef<HTMLCanvasElement>(null);
  const showY = col === 0;
  const showX = row === TEMPS.length - 1;
  const w = PANEL_W + (showY ? Y_AXIS_W : 0);
  const h = PANEL_H + 2 * PAD + (showX ? X_AXIS_H : 0);
  const left = PANEL_LEFT + col * COL_STEP - (showY ? Y_AXIS_W : 0);
  const top = PANEL_TOP + row * ROW_STEP - PAD;

  useEffect(() => {
    const stations = STATION_GRID[row][col];
    const pooled = POOLED_GRID[row][col];
    const pts = (vals: number[]) => vals.map((v, i) => ({ x: LAGS[i], y: Math.asinh(v) }));
    const datasets: any[] = [];
    datasets.push({ data: pts(pooled.est), borderColor: '#FF0000', borderWidth: 2, fill: false });
    stations.forEach((s: number[]) => {
      datasets.push({ data: pts(s.slice(1)), borderColor: elevColor(s[0], 0.7), borderWidth: 1.15, fill: false });
    });
    datasets.push({
      data: [{ x: X_MIN, y: Math.asinh(REF_ODDS) }, { x: X_MAX, y: Math.asinh(REF_ODDS) }],
      borderColor: '#5F5F5F', borderWidth: 1.1, fill: false, cubicInterpolationMode: 'default', tension: 0,
    });
    datasets.push({ data: pts(pooled.hi), borderWidth: 0, borderColor: 'rgba(0,0,0,0)', backgroundColor: 'rgba(255,0,0,0.5)', fill: '+1' });
    datasets.push({ data: pts(pooled.lo), borderWidth: 0, borderColor: 'rgba(0,0,0,0)', fill: false });

    const zeroPad = (s: any) => { s.paddingTop = 0; s.paddingBottom = 0; s.paddingLeft = 0; s.paddingRight = 0; };

    const chart = new Chart(ref.current as HTMLCanvasElement, {
      type: 'line',
      data: { datasets },
      plugins: [panelBg],
      options: {
        animation: false,
        responsive: false,
        devicePixelRatio: 1,
        events: [],
        layout: { padding: { top: PAD, bottom: PAD, left: 0, right: 0 } },
        elements: {
          point: { radius: 0, hoverRadius: 0 },
          line: { cubicInterpolationMode: 'monotone', capBezierPoints: false },
        },
        datasets: { line: { clip: 0 } } as any,
        plugins: { legend: { display: false }, tooltip: { enabled: false } },
        scales: {
          x: {
            type: 'linear',
            min: X_MIN,
            max: X_MAX,
            bounds: 'data',
            afterBuildTicks: (s: any) => { s.ticks = X_TICKS.map((v) => ({ value: v, minor: v % 20 !== 0 })); },
            afterFit: (s: any) => { s.height = showX ? X_AXIS_H : 0; zeroPad(s); },
            border: { display: false },
            grid: {
              color: '#FFFFFF',
              lineWidth: (c: any) => (c.tick && c.tick.minor ? 0.55 : 1.1),
              drawTicks: showX,
              tickLength: 4,
              tickColor: (c: any) => (c.tick && c.tick.minor ? 'rgba(0,0,0,0)' : '#333333'),
              tickWidth: 1.1,
            },
            ticks: {
              display: showX,
              autoSkip: false,
              maxRotation: 0,
              padding: 2,
              color: '#4D4D4D',
              font: { family: FONT, size: 13 },
              callback: (v: any, i: number, t: any[]) => (t[i].minor ? '' : String(v)),
            },
          },
          y: {
            type: 'linear',
            min: Y_MIN,
            max: Y_MAX,
            bounds: 'data',
            afterBuildTicks: (s: any) => {
              const t: any[] = [];
              Y_MAJOR.forEach((v, i) => {
                t.push({ value: v, minor: false });
                if (i < Y_MAJOR.length - 1) t.push({ value: (v + Y_MAJOR[i + 1]) / 2, minor: true });
              });
              s.ticks = t;
            },
            afterFit: (s: any) => { s.width = showY ? Y_AXIS_W : 0; zeroPad(s); },
            border: { display: false },
            grid: {
              color: '#FFFFFF',
              lineWidth: (c: any) => (c.tick && c.tick.minor ? 0.55 : 1.1),
              drawTicks: showY,
              tickLength: 4,
              tickColor: (c: any) => (c.tick && c.tick.minor ? 'rgba(0,0,0,0)' : '#333333'),
              tickWidth: 1.1,
            },
            ticks: {
              display: showY,
              autoSkip: false,
              padding: 3,
              color: '#4D4D4D',
              font: { family: FONT, size: 13 },
              callback: (v: any, i: number, t: any[]) => (t[i].minor ? '' : String(Math.round(Math.sinh(v)))),
            },
          },
        },
      } as any,
    });
    return () => chart.destroy();
  }, [row, col]);

  return (
    <canvas
      ref={ref}
      width={w}
      height={h}
      style={{ position: 'absolute', left, top, width: w, height: h }}
    />
  );
}

const CAPTION_LINES = [
  [<b key="b" style={{ color: '#1a1a1a' }}>FIGURE 4 | </b>, 'Summaries of DLNMs (distributed lag non-linear models) based on conditional logistic regression for larch, horse chestnut, hazel, beech, and Norway'],
  ['spruce. The odds ratios along the lag dimension are shown for T', <span key="s" style={{ fontSize: '0.7em', lineHeight: 0, position: 'relative', top: '0.35em' }}>max</span>, ' of 5°C, 10°C, 15°C, and 20°C. The species are ordered from early- to late-leafing species (left'],
  ['to right). The station-specific odds ratios are represented by the dark-blue lines (low-elevation stations) to light-blue lines (high-elevation stations). For sake of clarity,'],
  ['no confidence intervals are shown for the station-specific odds ratios. The red lines are the pooled estimates of the odds ratios (including 95% confidence intervals)'],
  ['from the multivariate meta-analysis. An inverse hyperbolic sine transformation has been applied to the ', <i key="i">y</i>, '-axis to increase the visibility of smaller values.'],
];

export default function App() {
  const barTop = 393;
  const barH = 133;
  return (
    <div style={{ position: 'absolute', left: 0, top: 0, width: 1355, height: 1049, background: '#FFFFFF', overflow: 'hidden', fontFamily: FONT }}>
      <div style={{ position: 'absolute', left: 8, top: 8, width: 1400, height: 1100, borderTop: '1px solid #555', borderLeft: '1px solid #555' }} />

      {SPECIES.map((s, c) => (
        <div key={s} style={{ position: 'absolute', left: PANEL_LEFT + c * COL_STEP, top: 30, width: PANEL_W, height: 26, background: '#D9D9D9', color: '#1A1A1A', fontSize: 13, lineHeight: '26px', textAlign: 'center' }}>{s}</div>
      ))}
      {TEMPS.map((t, r) => (
        <div key={t} style={{ position: 'absolute', left: PANEL_LEFT + 4 * COL_STEP + PANEL_W, top: PANEL_TOP + r * ROW_STEP, width: 26, height: PANEL_H, background: '#D9D9D9' }}>
          <div style={{ position: 'absolute', left: 13, top: PANEL_H / 2, transform: 'translate(-50%,-50%) rotate(90deg)', color: '#1A1A1A', fontSize: 13, whiteSpace: 'nowrap' }}>{t}</div>
        </div>
      ))}

      {TEMPS.map((t, r) => SPECIES.map((s, c) => <Panel key={`${r}-${c}`} row={r} col={c} />))}

      <div style={{ position: 'absolute', left: 47, top: 448, transform: 'translate(-50%,-50%) rotate(-90deg)', fontSize: 16, color: '#000', whiteSpace: 'nowrap' }}>Odds ratio</div>
      <div style={{ position: 'absolute', left: 602, top: 872, transform: 'translate(-50%,-50%)', fontSize: 16, color: '#000', whiteSpace: 'nowrap' }}>Lag (days)</div>

      <div style={{ position: 'absolute', left: 1180, top: 369, fontSize: 16, color: '#000', whiteSpace: 'nowrap' }}>Elevation (m a.s.l.)</div>
      <div style={{ position: 'absolute', left: 1180, top: barTop, width: 27, height: barH, background: `linear-gradient(to bottom, rgb(${HIGH.join(',')}), rgb(${LOW.join(',')}))` }}>
        {ELEV_BREAKS.map((b) => {
          const y = barH - ((b - ELEV_LIMITS[0]) / (ELEV_LIMITS[1] - ELEV_LIMITS[0])) * barH;
          return (
            <React.Fragment key={b}>
              <div style={{ position: 'absolute', left: 0, top: y - 0.5, width: 5, height: 1, background: 'rgba(255,255,255,0.8)' }} />
              <div style={{ position: 'absolute', right: 0, top: y - 0.5, width: 5, height: 1, background: 'rgba(255,255,255,0.8)' }} />
              <div style={{ position: 'absolute', left: 35, top: y, transform: 'translateY(-50%)', fontSize: 13, color: '#000', whiteSpace: 'nowrap' }}>{b}</div>
            </React.Fragment>
          );
        })}
      </div>

      <div style={{ position: 'absolute', left: 24, top: 919, fontSize: 18, lineHeight: '25px', color: '#333' }}>
        {CAPTION_LINES.map((l, i) => (
          <div key={i} style={{ whiteSpace: 'nowrap', height: 25 }}>{l}</div>
        ))}
      </div>
    </div>
  );
}
